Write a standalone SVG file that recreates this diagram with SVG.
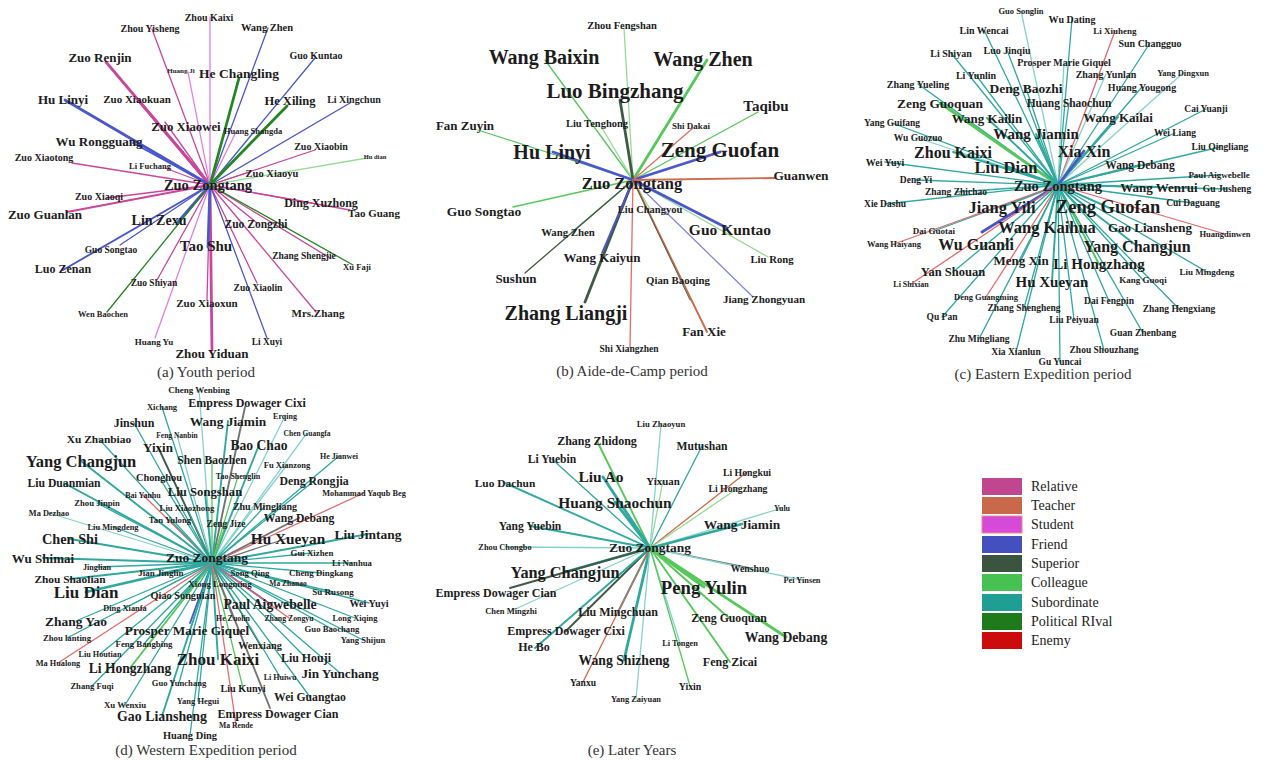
<svg xmlns="http://www.w3.org/2000/svg" width="1264" height="760" viewBox="0 0 1264 760">
<style>
.e path{fill:none;stroke-linecap:round;stroke-width:1.3}
.e .w1{stroke-width:0.9}.e .w2{stroke-width:1.9}.e .w3{stroke-width:2.8}
.rel{stroke:#c9479b}.tea{stroke:#cd6a4c}.stu{stroke:#e27ee6}.fri{stroke:#4b57cc}.fril{stroke:#7f88dc}.sup{stroke:#3f5a45}.gry{stroke:#747474}.col{stroke:#55c85a}.coll{stroke:#94dc94}.sub{stroke:#2fa89e}.subl{stroke:#86d2ca}.riv{stroke:#23861f}.ene{stroke:#e56a6a}
text{font-family:"Liberation Serif","Times New Roman",serif;font-weight:bold;fill:#1c1c1c;text-anchor:middle;dominant-baseline:central}
text.cap{font-weight:normal;fill:#333;font-size:15px}
text.leg{font-weight:normal;text-anchor:start;fill:#222;font-size:14px}
</style>
<rect width="1264" height="760" fill="#fff"/>

<!-- ===== Panel (a) ===== -->
<g id="a-edges" class="e">
<path class="rel w3" d="M210 185L106 62"/><path class="rel w3" d="M210 185L140 102"/><path class="rel w3" d="M210 185L212 350"/>
<path class="rel" d="M210 185L152 29"/><path class="rel" d="M210 185L165 122"/><path class="rel" d="M210 185L315 150"/><path class="rel" d="M210 185L72 163"/><path class="rel" d="M210 185L165 168"/><path class="rel" d="M210 185L250 172"/><path class="rel" d="M210 185L107 198"/><path class="rel w2" d="M210 185L67 212"/><path class="rel" d="M210 185L312 203"/><path class="rel" d="M210 185L350 210"/><path class="rel" d="M210 185L257 223"/><path class="rel" d="M210 185L330 258"/><path class="rel" d="M210 185L157 280"/><path class="rel" d="M210 185L257 283"/><path class="rel" d="M210 185L207 300"/><path class="rel" d="M210 185L316 312"/>
<path class="stu" d="M210 185L210 17"/><path class="stu" d="M210 185L188 72"/><path class="stu" d="M210 185L236 132"/><path class="stu" d="M210 185L155 338"/>
<path class="fri w3" d="M210 185L65 100"/><path class="fri w3" d="M210 185L178 222"/><path class="fri w3" d="M210 185L208 247"/>
<path class="fri" d="M210 185L268 28"/><path class="fri" d="M210 185L315 58"/><path class="fri" d="M210 185L350 103"/><path class="fri w2" d="M210 185L133 143"/><path class="fri" d="M210 185L120 245"/><path class="fri w2" d="M210 185L63 270"/><path class="fri" d="M210 185L267 338"/>
<path class="riv w3" d="M210 185L239 78"/><path class="riv w3" d="M210 185L287 106"/><path class="riv" d="M210 185L353 265"/><path class="riv" d="M210 185L107 312"/>
<path class="coll" d="M210 185L367 158"/>
</g>
<g id="a-zuo-zongtang"><text x="208" y="185" font-size="14.5">Zuo Zongtang</text></g>
<g id="a-zhou-kaixi"><text x="209" y="17" font-size="10">Zhou Kaixi</text></g>
<g id="a-zhou-yisheng"><text x="150" y="28" font-size="10">Zhou Yisheng</text></g>
<g id="a-wang-zhen"><text x="267" y="27" font-size="10.5">Wang Zhen</text></g>
<g id="a-zuo-renjin"><text x="100" y="57" font-size="13">Zuo Renjin</text></g>
<g id="a-guo-kuntao"><text x="316" y="55" font-size="10">Guo Kuntao</text></g>
<g id="a-huang-ji"><text x="181" y="71" font-size="7">Huang Ji</text></g>
<g id="a-he-changling"><text x="239" y="73" font-size="13.5">He Changling</text></g>
<g id="a-hu-linyi"><text x="63" y="99" font-size="13">Hu Linyi</text></g>
<g id="a-zuo-xiaokuan"><text x="137" y="99" font-size="11">Zuo Xiaokuan</text></g>
<g id="a-he-xiling"><text x="290" y="101" font-size="12.5">He Xiling</text></g>
<g id="a-li-xingchun"><text x="354" y="99" font-size="10">Li Xingchun</text></g>
<g id="a-zuo-xiaowei"><text x="186" y="127" font-size="12.8">Zuo Xiaowei</text></g>
<g id="a-huang-shangda"><text x="253" y="131" font-size="8.5">Huang Shangda</text></g>
<g id="a-wu-rongguang"><text x="99" y="141" font-size="13">Wu Rongguang</text></g>
<g id="a-zuo-xiaobin"><text x="321" y="146" font-size="10">Zuo Xiaobin</text></g>
<g id="a-zuo-xiaotong"><text x="44" y="157" font-size="10">Zuo Xiaotong</text></g>
<g id="a-hu-dian"><text x="375" y="156" font-size="6.5">Hu dian</text></g>
<g id="a-li-fuchang"><text x="150" y="166" font-size="8.5">Li Fuchang</text></g>
<g id="a-zuo-xiaoyu"><text x="272" y="173" font-size="10.5">Zuo Xiaoyu</text></g>
<g id="a-zuo-xiaoqi"><text x="99" y="196" font-size="10">Zuo Xiaoqi</text></g>
<g id="a-zuo-guanlan"><text x="45" y="214" font-size="13">Zuo Guanlan</text></g>
<g id="a-lin-zexu"><text x="159" y="220" font-size="14">Lin Zexu</text></g>
<g id="a-ding-xuzhong"><text x="321" y="203" font-size="12">Ding Xuzhong</text></g>
<g id="a-tao-guang"><text x="374" y="213" font-size="11">Tao Guang</text></g>
<g id="a-zuo-zongzhi"><text x="256" y="224" font-size="11.5">Zuo Zongzhi</text></g>
<g id="a-tao-shu"><text x="206" y="246" font-size="15">Tao Shu</text></g>
<g id="a-guo-songtao"><text x="111" y="250" font-size="9.5">Guo Songtao</text></g>
<g id="a-zhang-shengjie"><text x="304" y="256" font-size="9.5">Zhang Shengjie</text></g>
<g id="a-luo-zenan"><text x="63" y="269" font-size="12">Luo Zenan</text></g>
<g id="a-xu-faji"><text x="357" y="267" font-size="8.6">Xu Faji</text></g>
<g id="a-zuo-shiyan"><text x="154" y="283" font-size="9.5">Zuo Shiyan</text></g>
<g id="a-zuo-xiaolin"><text x="258" y="287" font-size="9.6">Zuo Xiaolin</text></g>
<g id="a-zuo-xiaoxun"><text x="207" y="303" font-size="11">Zuo Xiaoxun</text></g>
<g id="a-wen-baochen"><text x="103" y="314" font-size="8.5">Wen Baochen</text></g>
<g id="a-mrs-zhang"><text x="318" y="313" font-size="11">Mrs.Zhang</text></g>
<g id="a-huang-yu"><text x="154" y="342" font-size="9">Huang Yu</text></g>
<g id="a-li-xuyi"><text x="267" y="342" font-size="9.4">Li Xuyi</text></g>
<g id="a-zhou-yiduan"><text x="212" y="353" font-size="13">Zhou Yiduan</text></g>
<g id="a-caption"><text class="cap" x="206" y="372">(a) Youth period</text></g>

<!-- ===== Panel (b) ===== -->
<g id="b-edges" class="e">
<path class="col" d="M633 180L545 60"/><path class="col" d="M633 180L758 112"/><path class="col" d="M633 180L478 130"/><path class="col" d="M633 180L513 207"/><path class="col" d="M633 180L572 232"/>
<path class="col w3" d="M633 180L707 60"/>
<path class="coll" d="M633 180L624 28"/><path class="coll" d="M633 180L602 128"/><path class="coll" d="M633 180L650 209"/><path class="coll" d="M633 180L768 257"/>
<path class="sup w3" d="M633 180L620 100"/><path class="sup w3" d="M633 180L585 302"/><path class="sup" d="M633 180L525 273"/>
<path class="fri w3" d="M633 180L553 152"/><path class="fri w3" d="M633 180L720 152"/><path class="fri w3" d="M633 180L727 228"/>
<path class="fri w2" d="M633 180L602 253"/><path class="fril" d="M633 180L753 297"/>
<path class="ene" d="M633 180L693 128"/><path class="ene" d="M633 180L630 347"/>
<path class="tea w2" d="M633 180L775 178"/><path class="tea w2" d="M633 180L707 332"/><path class="sup w1" d="M633 180L690 300"/>
</g>
<g id="b-zuo-zongtang"><text x="632" y="183" font-size="16.5">Zuo Zongtang</text></g>
<g id="b-zhou-fengshan"><text x="622" y="25" font-size="10.5">Zhou Fengshan</text></g>
<g id="b-wang-baixin"><text x="544" y="57" font-size="20">Wang Baixin</text></g>
<g id="b-wang-zhen"><text x="703" y="59" font-size="20">Wang Zhen</text></g>
<g id="b-luo-bingzhang"><text x="615" y="91" font-size="21">Luo Bingzhang</text></g>
<g id="b-taqibu"><text x="766" y="106" font-size="15">Taqibu</text></g>
<g id="b-fan-zuyin"><text x="465" y="125" font-size="13">Fan Zuyin</text></g>
<g id="b-liu-tenghong"><text x="597" y="123" font-size="10.5">Liu Tenghong</text></g>
<g id="b-shi-dakai"><text x="691" y="126" font-size="9">Shi Dakai</text></g>
<g id="b-hu-linyi"><text x="552" y="152" font-size="20">Hu Linyi</text></g>
<g id="b-zeng-guofan"><text x="720" y="150" font-size="21">Zeng Guofan</text></g>
<g id="b-guanwen"><text x="801" y="175" font-size="13.4">Guanwen</text></g>
<g id="b-guo-songtao"><text x="484" y="211" font-size="13.5">Guo Songtao</text></g>
<g id="b-liu-changyou"><text x="650" y="209" font-size="10.5">Liu Changyou</text></g>
<g id="b-guo-kuntao"><text x="730" y="229" font-size="15.5">Guo Kuntao</text></g>
<g id="b-wang-zhen-2"><text x="568" y="232" font-size="10.8">Wang Zhen</text></g>
<g id="b-wang-kaiyun"><text x="602" y="257" font-size="13">Wang Kaiyun</text></g>
<g id="b-liu-rong"><text x="772" y="259" font-size="10.7">Liu Rong</text></g>
<g id="b-sushun"><text x="516" y="278" font-size="13">Sushun</text></g>
<g id="b-qian-baoqing"><text x="678" y="280" font-size="10.8">Qian Baoqing</text></g>
<g id="b-jiang-zhongyuan"><text x="764" y="299" font-size="11">Jiang Zhongyuan</text></g>
<g id="b-zhang-liangji"><text x="566" y="313" font-size="20">Zhang Liangji</text></g>
<g id="b-fan-xie"><text x="704" y="331" font-size="13">Fan Xie</text></g>
<g id="b-shi-xiangzhen"><text x="629" y="349" font-size="9.5">Shi Xiangzhen</text></g>
<g id="b-caption"><text class="cap" x="632" y="371">(b) Aide-de-Camp period</text></g>

<!-- ===== Panel (c) ===== -->
<g id="c-edges" class="e">
<path class="subl" d="M1058 185L1021 11"/><path class="sub" d="M1058 185L1072 19"/><path class="sub" d="M1058 185L984 30"/><path class="ene" d="M1058 185L1115 31"/><path class="sub" d="M1058 185L1150 43"/><path class="sub" d="M1058 185L951 53"/><path class="sub" d="M1058 185L1007 50"/><path class="subl" d="M1058 185L1064 62"/><path class="sub" d="M1058 185L976 75"/><path class="subl" d="M1058 185L1106 74"/><path class="subl" d="M1058 185L1183 73"/><path class="sub" d="M1058 185L918 84"/><path class="sub" d="M1058 185L1026 88"/><path class="sub" d="M1058 185L1142 87"/>
<path class="col w3" d="M1058 185L940 103"/><path class="sub" d="M1058 185L1069 103"/><path class="sub" d="M1058 185L1206 109"/><path class="sub w2" d="M1058 185L987 118"/><path class="sub w2" d="M1058 185L1118 117"/><path class="sub" d="M1058 185L892 123"/><path class="subl" d="M1058 185L918 138"/><path class="sub w2" d="M1058 185L1036 134"/><path class="sub" d="M1058 185L1175 133"/><path class="sub" d="M1058 185L1220 147"/><path class="sub w2" d="M1058 185L953 152"/><path class="fri w3" d="M1058 185L1084 151"/><path class="sub" d="M1058 185L885 162"/><path class="sub w3" d="M1058 185L1006 167"/><path class="sub w2" d="M1058 185L1140 165"/><path class="sub" d="M1058 185L916 180"/><path class="sub" d="M1058 185L1219 175"/><path class="sub w2" d="M1058 185L1159 187"/><path class="sub" d="M1058 185L1227 189"/>
<path class="sub" d="M1058 185L956 192"/><path class="sub" d="M1058 185L885 204"/><path class="sub" d="M1058 185L1193 203"/><path class="sub w2" d="M1058 185L1002 207"/><path class="sub w2" d="M1058 185L1108 207"/><path class="sub" d="M1058 185L934 231"/><path class="sub w2" d="M1058 185L1047 227"/><path class="sub" d="M1058 185L1150 227"/><path class="ene" d="M1058 185L1225 234"/><path class="ene" d="M1058 185L894 244"/><path class="fri w3" d="M1058 185L982 232"/><path class="sub w2" d="M1058 185L1137 246"/><path class="sub" d="M1058 185L1021 260"/><path class="col w2" d="M1058 185L1099 264"/><path class="sub" d="M1058 185L953 272"/><path class="sub" d="M1058 185L1207 272"/><path class="ene" d="M1058 185L911 284"/><path class="sub w2" d="M1058 185L1052 282"/><path class="sub" d="M1058 185L1143 280"/><path class="ene" d="M1058 185L986 297"/><path class="sub" d="M1058 185L1024 308"/><path class="sub" d="M1058 185L1109 301"/><path class="sub" d="M1058 185L942 317"/><path class="sub" d="M1058 185L1179 309"/><path class="sub" d="M1058 185L1074 320"/><path class="sub" d="M1058 185L1143 333"/><path class="sub" d="M1058 185L979 339"/><path class="sub" d="M1058 185L1016 352"/><path class="sub" d="M1058 185L1104 350"/><path class="sub" d="M1058 185L1060 362"/>
</g>
<g id="c-zuo-zongtang"><text x="1058" y="186" font-size="14.5">Zuo Zongtang</text></g>
<g id="c-guo-songlin"><text x="1021" y="11" font-size="8.5">Guo Songlin</text></g>
<g id="c-wu-dating"><text x="1072" y="19" font-size="10">Wu Dating</text></g>
<g id="c-lin-wencai"><text x="984" y="30" font-size="10">Lin Wencai</text></g>
<g id="c-li-xiuheng"><text x="1115" y="31" font-size="9">Li Xiuheng</text></g>
<g id="c-sun-changguo"><text x="1150" y="43" font-size="10">Sun Changguo</text></g>
<g id="c-li-shiyan"><text x="951" y="53" font-size="10">Li Shiyan</text></g>
<g id="c-luo-jinqiu"><text x="1007" y="50" font-size="10">Luo Jinqiu</text></g>
<g id="c-prosper-marie-giquel"><text x="1064" y="62" font-size="10">Prosper Marie Giquel</text></g>
<g id="c-li-yunlin"><text x="976" y="75" font-size="10">Li Yunlin</text></g>
<g id="c-zhang-yunlan"><text x="1106" y="74" font-size="10">Zhang Yunlan</text></g>
<g id="c-yang-dingxun"><text x="1183" y="73" font-size="8.5">Yang Dingxun</text></g>
<g id="c-zhang-yueling"><text x="918" y="84" font-size="10">Zhang Yueling</text></g>
<g id="c-deng-baozhi"><text x="1026" y="88" font-size="13.5">Deng Baozhi</text></g>
<g id="c-huang-yougong"><text x="1142" y="87" font-size="10">Huang Yougong</text></g>
<g id="c-zeng-guoquan"><text x="940" y="103" font-size="13.4">Zeng Guoquan</text></g>
<g id="c-huang-shaochun"><text x="1069" y="103" font-size="11.5">Huang Shaochun</text></g>
<g id="c-cai-yuanji"><text x="1206" y="109" font-size="9.5">Cai Yuanji</text></g>
<g id="c-wang-kailin"><text x="987" y="118" font-size="13">Wang Kailin</text></g>
<g id="c-wang-kailai"><text x="1118" y="117" font-size="13">Wang Kailai</text></g>
<g id="c-yang-guifang"><text x="892" y="123" font-size="9.5">Yang Guifang</text></g>
<g id="c-wu-guozuo"><text x="918" y="138" font-size="9.5">Wu Guozuo</text></g>
<g id="c-wang-jiamin"><text x="1036" y="134" font-size="15">Wang Jiamin</text></g>
<g id="c-wei-liang"><text x="1175" y="133" font-size="9.5">Wei Liang</text></g>
<g id="c-liu-qingliang"><text x="1220" y="147" font-size="9.5">Liu Qingliang</text></g>
<g id="c-zhou-kaixi"><text x="953" y="152" font-size="16">Zhou Kaixi</text></g>
<g id="c-xia-xin"><text x="1084" y="151" font-size="16">Xia Xin</text></g>
<g id="c-wei-yuyi"><text x="885" y="162" font-size="10">Wei Yuyi</text></g>
<g id="c-liu-dian"><text x="1006" y="167" font-size="16.5">Liu Dian</text></g>
<g id="c-wang-debang"><text x="1140" y="165" font-size="11.5">Wang Debang</text></g>
<g id="c-deng-yi"><text x="916" y="180" font-size="9.5">Deng Yi</text></g>
<g id="c-paul-aigwebelle"><text x="1219" y="175" font-size="9">Paul Aigwebelle</text></g>
<g id="c-wang-wenrui"><text x="1159" y="187" font-size="13">Wang Wenrui</text></g>
<g id="c-gu-jusheng"><text x="1227" y="189" font-size="9.5">Gu Jusheng</text></g>
<g id="c-zhang-zhichao"><text x="956" y="192" font-size="9.5">Zhang Zhichao</text></g>
<g id="c-xie-dashu"><text x="885" y="204" font-size="9.5">Xie Dashu</text></g>
<g id="c-cui-daguang"><text x="1193" y="203" font-size="9.5">Cui Daguang</text></g>
<g id="c-jiang-yili"><text x="1002" y="207" font-size="16.5">Jiang Yili</text></g>
<g id="c-zeng-guofan"><text x="1108" y="207" font-size="18.5">Zeng Guofan</text></g>
<g id="c-dai-guotai"><text x="934" y="231" font-size="9">Dai Guotai</text></g>
<g id="c-wang-kaihua"><text x="1047" y="227" font-size="16.5">Wang Kaihua</text></g>
<g id="c-gao-liansheng"><text x="1150" y="227" font-size="13">Gao Liansheng</text></g>
<g id="c-huangdinwen"><text x="1225" y="234" font-size="8.5">Huangdinwen</text></g>
<g id="c-wang-haiyang"><text x="894" y="244" font-size="8.5">Wang Haiyang</text></g>
<g id="c-wu-guanli"><text x="976" y="244" font-size="16">Wu Guanli</text></g>
<g id="c-yang-changjun"><text x="1137" y="246" font-size="16">Yang Changjun</text></g>
<g id="c-meng-xin"><text x="1021" y="260" font-size="13">Meng Xin</text></g>
<g id="c-li-hongzhang"><text x="1099" y="264" font-size="15">Li Hongzhang</text></g>
<g id="c-yan-shouan"><text x="953" y="272" font-size="12.5">Yan Shouan</text></g>
<g id="c-liu-mingdeng"><text x="1207" y="272" font-size="9">Liu Mingdeng</text></g>
<g id="c-li-shixian"><text x="911" y="284" font-size="8">Li Shixian</text></g>
<g id="c-hu-xueyan"><text x="1052" y="282" font-size="15">Hu Xueyan</text></g>
<g id="c-kang-guoqi"><text x="1143" y="280" font-size="9">Kang Guoqi</text></g>
<g id="c-deng-guangming"><text x="986" y="297" font-size="8.5">Deng Guangming</text></g>
<g id="c-zhang-shengheng"><text x="1024" y="308" font-size="9.5">Zhang Shengheng</text></g>
<g id="c-dai-fengpin"><text x="1109" y="301" font-size="9.5">Dai Fengpin</text></g>
<g id="c-qu-pan"><text x="942" y="317" font-size="9.5">Qu Pan</text></g>
<g id="c-zhang-hengxiang"><text x="1179" y="309" font-size="9.5">Zhang Hengxiang</text></g>
<g id="c-liu-peiyuan"><text x="1074" y="320" font-size="9.5">Liu Peiyuan</text></g>
<g id="c-guan-zhenbang"><text x="1143" y="333" font-size="9.5">Guan Zhenbang</text></g>
<g id="c-zhu-mingliang"><text x="979" y="339" font-size="9.5">Zhu Mingliang</text></g>
<g id="c-xia-xianlun"><text x="1016" y="352" font-size="9.5">Xia Xianlun</text></g>
<g id="c-zhou-shouzhang"><text x="1104" y="350" font-size="9.5">Zhou Shouzhang</text></g>
<g id="c-gu-yuncai"><text x="1060" y="362" font-size="9.5">Gu Yuncai</text></g>
<g id="c-caption"><text class="cap" x="1043" y="374">(c) Eastern Expedition period</text></g>

<!-- ===== Panel (d) ===== -->
<g id="d-edges" class="e">
<path class="subl" d="M212 563L199 390"/><path class="gry w2" d="M212 563L245 407"/><path class="sub" d="M212 563L162 407"/><path class="subl" d="M212 563L285 416"/><path class="sub" d="M212 563L134 423"/><path class="sub w2" d="M212 563L228 421"/><path class="subl" d="M212 563L177 435"/><path class="subl" d="M212 563L307 433"/><path class="sub" d="M212 563L99 439"/><path class="sup w2" d="M212 563L158 447"/><path class="sub w2" d="M212 563L259 445"/><path class="sub" d="M212 563L339 456"/><path class="sub w2" d="M212 563L81 461"/><path class="col" d="M212 563L212 460"/><path class="subl" d="M212 563L287 465"/><path class="col" d="M212 563L238 476"/><path class="sub" d="M212 563L159 477"/><path class="sub w2" d="M212 563L64 483"/><path class="sub" d="M212 563L314 481"/><path class="sub w2" d="M212 563L205 492"/><path class="ene" d="M212 563L143 495"/><path class="ene" d="M212 563L364 493"/><path class="sub" d="M212 563L97 503"/><path class="sub" d="M212 563L187 508"/><path class="sub" d="M212 563L265 506"/><path class="subl" d="M212 563L49 513"/><path class="sub" d="M212 563L170 520"/><path class="gry w2" d="M212 563L299 518"/><path class="col" d="M212 563L226 524"/><path class="sub" d="M212 563L113 527"/><path class="sub w2" d="M212 563L70 539"/><path class="gry" d="M212 563L288 538"/><path class="sub w2" d="M212 563L368 534"/><path class="sub w2" d="M212 563L43 558"/><path class="sub" d="M212 563L312 553"/><path class="sub" d="M212 563L352 563"/>
<path class="sub" d="M212 563L97 567"/><path class="sub" d="M212 563L161 573"/><path class="sub" d="M212 563L250 573"/><path class="sub" d="M212 563L321 573"/><path class="sub w2" d="M212 563L70 579"/><path class="sub" d="M212 563L220 584"/><path class="sub" d="M212 563L288 583"/><path class="sub w3" d="M212 563L86 592"/><path class="sub" d="M212 563L333 592"/><path class="sub" d="M212 563L183 595"/><path class="sub" d="M212 563L369 603"/><path class="fri w2" d="M212 563L270 604"/><path class="sub" d="M212 563L125 608"/><path class="sub" d="M212 563L233 618"/><path class="ene" d="M212 563L289 618"/><path class="sub" d="M212 563L355 618"/><path class="sub" d="M212 563L76 621"/><path class="fri w2" d="M212 563L190 623"/><path class="sub" d="M212 563L332 629"/><path class="sub" d="M212 563L67 638"/><path class="sub" d="M212 563L363 640"/><path class="sub" d="M212 563L144 644"/><path class="sup" d="M212 563L260 645"/><path class="sub" d="M212 563L100 654"/><path class="sub" d="M212 563L306 658"/><path class="ene" d="M212 563L58 663"/><path class="sub w2" d="M212 563L218 659"/><path class="col w2" d="M212 563L130 668"/><path class="sub" d="M212 563L340 673"/><path class="sub" d="M212 563L280 677"/><path class="sub" d="M212 563L92 686"/><path class="sub" d="M212 563L179 683"/><path class="col" d="M212 563L243 688"/><path class="sub" d="M212 563L310 697"/><path class="sub" d="M212 563L198 701"/><path class="sub" d="M212 563L125 705"/><path class="sub w2" d="M212 563L162 716"/><path class="gry w2" d="M212 563L270 708"/><path class="ene" d="M212 563L236 725"/><path class="sub" d="M212 563L190 735"/>
</g>
<g id="d-zuo-zongtang"><text x="207" y="557" font-size="13.5">Zuo Zongtang</text></g>
<g id="d-cheng-wenbing"><text x="199" y="390" font-size="9">Cheng Wenbing</text></g>
<g id="d-empress-dowager-cixi"><text x="247" y="403" font-size="12">Empress Dowager Cixi</text></g>
<g id="d-xichang"><text x="162" y="407" font-size="8.5">Xichang</text></g>
<g id="d-erqing"><text x="285" y="416" font-size="8">Erqing</text></g>
<g id="d-jinshun"><text x="134" y="423" font-size="12">Jinshun</text></g>
<g id="d-wang-jiamin"><text x="228" y="421" font-size="13.4">Wang Jiamin</text></g>
<g id="d-feng-nanbin"><text x="177" y="435" font-size="7.5">Feng Nanbin</text></g>
<g id="d-chen-guangfa"><text x="307" y="433" font-size="7.5">Chen Guangfa</text></g>
<g id="d-xu-zhanbiao"><text x="99" y="439" font-size="11.4">Xu Zhanbiao</text></g>
<g id="d-yixin"><text x="158" y="447" font-size="13">Yixin</text></g>
<g id="d-bao-chao"><text x="259" y="445" font-size="13.6">Bao Chao</text></g>
<g id="d-he-jianwei"><text x="339" y="456" font-size="8">He Jianwei</text></g>
<g id="d-yang-changjun"><text x="81" y="461" font-size="16.5">Yang Changjun</text></g>
<g id="d-shen-baozhen"><text x="212" y="460" font-size="11.5">Shen Baozhen</text></g>
<g id="d-fu-xianzong"><text x="287" y="465" font-size="8.5">Fu Xianzong</text></g>
<g id="d-tao-shenglin"><text x="238" y="476" font-size="8">Tao Shenglin</text></g>
<g id="d-chonghou"><text x="159" y="477" font-size="10.4">Chonghou</text></g>
<g id="d-liu-duanmian"><text x="64" y="483" font-size="11.7">Liu Duanmian</text></g>
<g id="d-deng-rongjia"><text x="314" y="481" font-size="11.8">Deng Rongjia</text></g>
<g id="d-liu-songshan"><text x="205" y="492" font-size="12.7">Liu Songshan</text></g>
<g id="d-bai-yanhu"><text x="143" y="495" font-size="8">Bai Yanhu</text></g>
<g id="d-mohammad-yaqub-beg"><text x="364" y="493" font-size="8.3">Mohammad Yaqub Beg</text></g>
<g id="d-zhou-jinpin"><text x="97" y="503" font-size="8.7">Zhou Jinpin</text></g>
<g id="d-liu-xiaozhong"><text x="187" y="508" font-size="8.7">Liu Xiaozhong</text></g>
<g id="d-zhu-mingliang"><text x="265" y="506" font-size="10">Zhu Mingliang</text></g>
<g id="d-ma-dezhao"><text x="49" y="513" font-size="8.3">Ma Dezhao</text></g>
<g id="d-tan-yulong"><text x="170" y="520" font-size="8.7">Tan Yulong</text></g>
<g id="d-wang-debang"><text x="299" y="518" font-size="11.7">Wang Debang</text></g>
<g id="d-zeng-jize"><text x="226" y="524" font-size="9.5">Zeng Jize</text></g>
<g id="d-liu-mingdeng"><text x="113" y="527" font-size="8.4">Liu Mingdeng</text></g>
<g id="d-chen-shi"><text x="70" y="539" font-size="14.3">Chen Shi</text></g>
<g id="d-hu-xueyan"><text x="288" y="538" font-size="15.3">Hu Xueyan</text></g>
<g id="d-liu-jintang"><text x="368" y="534" font-size="13.5">Liu Jintang</text></g>
<g id="d-wu-shimai"><text x="43" y="558" font-size="13">Wu Shimai</text></g>
<g id="d-gui-xizhen"><text x="312" y="553" font-size="8.8">Gui Xizhen</text></g>
<g id="d-li-nanhua"><text x="352" y="563" font-size="8.7">Li Nanhua</text></g>
<g id="d-jinglian"><text x="97" y="567" font-size="8.2">Jinglian</text></g>
<g id="d-jian-jinglin"><text x="161" y="573" font-size="9">Jian Jinglin</text></g>
<g id="d-song-qing"><text x="250" y="573" font-size="8.7">Song Qing</text></g>
<g id="d-cheng-dingkang"><text x="321" y="573" font-size="8.9">Cheng Dingkang</text></g>
<g id="d-zhou-shaolian"><text x="70" y="579" font-size="11.4">Zhou Shaolian</text></g>
<g id="d-xiong-longming"><text x="220" y="584" font-size="8.8">Xiong Longming</text></g>
<g id="d-ma-zhanao"><text x="288" y="583" font-size="7.5">Ma Zhanao</text></g>
<g id="d-liu-dian"><text x="86" y="592" font-size="17">Liu Dian</text></g>
<g id="d-su-rusong"><text x="333" y="592" font-size="9">Su Rusong</text></g>
<g id="d-qiao-songnian"><text x="183" y="595" font-size="10.3">Qiao Songnian</text></g>
<g id="d-wei-yuyi"><text x="369" y="603" font-size="10.2">Wei Yuyi</text></g>
<g id="d-paul-aigwebelle"><text x="270" y="604" font-size="13.7">Paul Aigwebelle</text></g>
<g id="d-ding-xianfa"><text x="125" y="608" font-size="8.4">Ding Xianfa</text></g>
<g id="d-he-zuolin"><text x="233" y="618" font-size="7.9">He Zuolin</text></g>
<g id="d-zhang-zongyu"><text x="289" y="618" font-size="7.8">Zhang Zongyu</text></g>
<g id="d-long-xiqing"><text x="355" y="618" font-size="8.4">Long Xiqing</text></g>
<g id="d-zhang-yao"><text x="76" y="621" font-size="13.5">Zhang Yao</text></g>
<g id="d-prosper-marie-giquel"><text x="187" y="630" font-size="13.3">Prosper Marie Giquel</text></g>
<g id="d-guo-baochang"><text x="332" y="629" font-size="8.7">Guo Baochang</text></g>
<g id="d-zhou-lanting"><text x="67" y="638" font-size="8.7">Zhou lanting</text></g>
<g id="d-yang-shijun"><text x="363" y="640" font-size="8.5">Yang Shijun</text></g>
<g id="d-feng-bangbing"><text x="144" y="644" font-size="8.8">Feng Bangbing</text></g>
<g id="d-wenxiang"><text x="260" y="645" font-size="10.2">Wenxiang</text></g>
<g id="d-liu-houtian"><text x="100" y="654" font-size="8.2">Liu Houtian</text></g>
<g id="d-liu-houji"><text x="306" y="658" font-size="11.9">Liu Houji</text></g>
<g id="d-ma-hualong"><text x="58" y="663" font-size="8.3">Ma Hualong</text></g>
<g id="d-zhou-kaixi"><text x="218" y="659" font-size="17">Zhou Kaixi</text></g>
<g id="d-li-hongzhang"><text x="130" y="668" font-size="13.6">Li Hongzhang</text></g>
<g id="d-jin-yunchang"><text x="340" y="673" font-size="13.2">Jin Yunchang</text></g>
<g id="d-li-huiwu"><text x="280" y="677" font-size="8">Li Huiwu</text></g>
<g id="d-zhang-fuqi"><text x="92" y="686" font-size="8.6">Zhang Fuqi</text></g>
<g id="d-guo-yunchang"><text x="179" y="683" font-size="8.6">Guo Yunchang</text></g>
<g id="d-liu-kunyi"><text x="243" y="688" font-size="10.2">Liu Kunyi</text></g>
<g id="d-wei-guangtao"><text x="310" y="697" font-size="11.7">Wei Guangtao</text></g>
<g id="d-yang-hegui"><text x="198" y="701" font-size="8.5">Yang Hegui</text></g>
<g id="d-xu-wenxiu"><text x="125" y="705" font-size="8.8">Xu Wenxiu</text></g>
<g id="d-gao-liansheng"><text x="162" y="716" font-size="13.9">Gao Liansheng</text></g>
<g id="d-empress-dowager-cian"><text x="278" y="714" font-size="12">Empress Dowager Cian</text></g>
<g id="d-ma-rende"><text x="236" y="725" font-size="7.7">Ma Rende</text></g>
<g id="d-huang-ding"><text x="190" y="735" font-size="10.4">Huang Ding</text></g>
<g id="d-caption"><text class="cap" x="206" y="750">(d) Western Expedition period</text></g>

<!-- ===== Panel (e) ===== -->
<g id="e-edges" class="e">
<path class="subl" d="M650 548L661 424"/><path class="col w2" d="M650 548L597 441"/><path class="sub" d="M650 548L702 446"/><path class="sub" d="M650 548L552 459"/><path class="tea" d="M650 548L747 472"/><path class="sub w3" d="M650 548L603 477"/><path class="coll" d="M650 548L663 481"/><path class="sub w2" d="M650 548L505 483"/><path class="coll" d="M650 548L738 488"/><path class="sub w3" d="M650 548L615 502"/><path class="subl" d="M650 548L782 508"/><path class="sub w3" d="M650 548L742 524"/><path class="sub w2" d="M650 548L530 526"/><path class="subl" d="M650 548L505 547"/><path class="gry" d="M650 548L750 568"/><path class="sub w3" d="M650 548L565 572"/><path class="subl" d="M650 548L802 580"/><path class="col w3" d="M650 548L704 587"/><path class="sup w2" d="M650 548L510 588"/><path class="subl" d="M650 548L511 611"/><path class="sub w2" d="M650 548L618 612"/><path class="col w2" d="M650 548L729 618"/><path class="sup w2" d="M650 548L566 631"/><path class="col w3" d="M650 548L786 637"/><path class="subl" d="M650 548L680 643"/><path class="sub w2" d="M650 548L535 648"/><path class="sub w3" d="M650 548L624 660"/><path class="col w2" d="M650 548L730 662"/><path class="tea" d="M650 548L583 682"/><path class="col" d="M650 548L690 686"/><path class="subl" d="M650 548L636 699"/>
</g>
<g id="e-zuo-zongtang"><text x="650" y="547" font-size="13.5">Zuo Zongtang</text></g>
<g id="e-liu-zhaoyun"><text x="661" y="424" font-size="8.7">Liu Zhaoyun</text></g>
<g id="e-zhang-zhidong"><text x="597" y="441" font-size="12">Zhang Zhidong</text></g>
<g id="e-mutushan"><text x="702" y="446" font-size="11.6">Mutushan</text></g>
<g id="e-li-yuebin"><text x="552" y="459" font-size="11.6">Li Yuebin</text></g>
<g id="e-li-hongkui"><text x="747" y="472" font-size="9.8">Li Hongkui</text></g>
<g id="e-liu-ao"><text x="601" y="476" font-size="15.5">Liu Ao</text></g>
<g id="e-yixuan"><text x="663" y="481" font-size="10.9">Yixuan</text></g>
<g id="e-luo-dachun"><text x="505" y="483" font-size="11.4">Luo Dachun</text></g>
<g id="e-li-hongzhang"><text x="738" y="488" font-size="9.7">Li Hongzhang</text></g>
<g id="e-huang-shaochun"><text x="615" y="502" font-size="15.4">Huang Shaochun</text></g>
<g id="e-yulu"><text x="782" y="508" font-size="8">Yulu</text></g>
<g id="e-wang-jiamin"><text x="742" y="524" font-size="13.4">Wang Jiamin</text></g>
<g id="e-yang-yuebin"><text x="530" y="526" font-size="11.6">Yang Yuebin</text></g>
<g id="e-zhou-chongbo"><text x="505" y="547" font-size="8.3">Zhou Chongbo</text></g>
<g id="e-wenshuo"><text x="750" y="568" font-size="9.8">Wenshuo</text></g>
<g id="e-yang-changjun"><text x="565" y="572" font-size="16.3">Yang Changjun</text></g>
<g id="e-pei-yinsen"><text x="802" y="580" font-size="8.3">Pei Yinsen</text></g>
<g id="e-peng-yulin"><text x="704" y="587" font-size="18.7">Peng Yulin</text></g>
<g id="e-empress-dowager-cian"><text x="496" y="593" font-size="12">Empress Dowager Cian</text></g>
<g id="e-chen-mingzhi"><text x="511" y="611" font-size="8.5">Chen Mingzhi</text></g>
<g id="e-liu-mingchuan"><text x="618" y="612" font-size="12">Liu Mingchuan</text></g>
<g id="e-zeng-guoquan"><text x="729" y="618" font-size="11.8">Zeng Guoquan</text></g>
<g id="e-empress-dowager-cixi"><text x="566" y="631" font-size="12">Empress Dowager Cixi</text></g>
<g id="e-wang-debang"><text x="786" y="637" font-size="13.7">Wang Debang</text></g>
<g id="e-li-tongen"><text x="680" y="643" font-size="8.3">Li Tongen</text></g>
<g id="e-he-bo"><text x="534" y="647" font-size="12">He Bo</text></g>
<g id="e-wang-shizheng"><text x="624" y="660" font-size="13.7">Wang Shizheng</text></g>
<g id="e-feng-zicai"><text x="730" y="662" font-size="12">Feng Zicai</text></g>
<g id="e-yanxu"><text x="583" y="682" font-size="9.6">Yanxu</text></g>
<g id="e-yixin"><text x="690" y="686" font-size="9.9">Yixin</text></g>
<g id="e-yang-zaiyuan"><text x="636" y="699" font-size="8.4">Yang Zaiyuan</text></g>
<g id="e-caption"><text class="cap" x="632" y="750">(e) Later Years</text></g>

<!-- ===== Legend ===== -->
<g id="legend">
<rect x="982" y="478" width="40" height="17" fill="#c0478f"/><text class="leg" x="1031" y="486">Relative</text>
<rect x="982" y="497" width="40" height="17" fill="#c8694a"/><text class="leg" x="1031" y="505">Teacher</text>
<rect x="982" y="516" width="40" height="17" fill="#d54ad8" stroke="#f08a8a" stroke-width="1"/><text class="leg" x="1031" y="524">Student</text>
<rect x="982" y="536" width="40" height="17" fill="#4450c0"/><text class="leg" x="1031" y="544">Friend</text>
<rect x="982" y="555" width="40" height="17" fill="#3a5440"/><text class="leg" x="1031" y="563">Superior</text>
<rect x="982" y="574" width="40" height="17" fill="#47c152"/><text class="leg" x="1031" y="582">Colleague</text>
<rect x="982" y="594" width="40" height="17" fill="#1f9e94"/><text class="leg" x="1031" y="602">Subordinate</text>
<rect x="982" y="613" width="40" height="17" fill="#1f7a1c"/><text class="leg" x="1031" y="621">Political RIval</text>
<rect x="982" y="632" width="40" height="17" fill="#cc0c0c"/><text class="leg" x="1031" y="640">Enemy</text>
</g>
</svg>
